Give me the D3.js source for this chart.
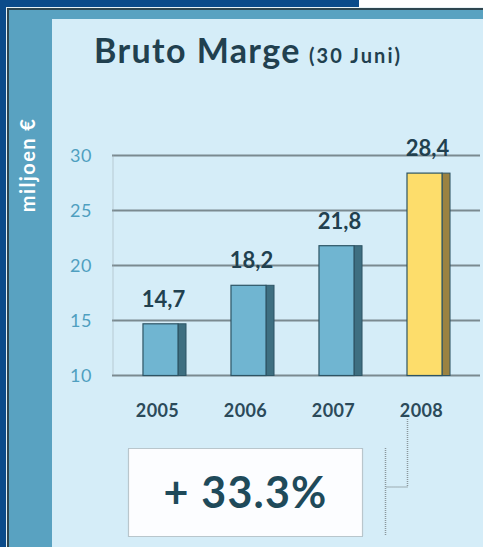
<!DOCTYPE html>
<html>
<head>
<meta charset="utf-8">
<script src="https://cdn.jsdelivr.net/npm/d3@7"></script>
<style>
html,body{margin:0;padding:0;background:#0b4b8a;}
svg{display:block;}
</style>
</head>
<body>
<svg id="c" width="483" height="547"></svg>
<script>
const years = ["2005","2006","2007","2008"];
const values = [14.7, 18.2, 21.8, 28.4];
const valueLabels = ["14,7","18,2","21,8","28,4"];
const yTicks = [10, 15, 20, 25, 30];
const highlightYear = "2008";
const title = "Bruto Marge";
const subtitle = "(30 Juni)";
const yLabel = "miljoen €";
const growthLabel = "+ 33.3%";

const svg = d3.select("#c");
const W = 483, H = 547;
const font = "Lato, 'Open Sans', sans-serif";

// background
svg.append("rect").attr("width", W).attr("height", H).attr("fill", "#0b4b8a");
svg.append("rect").attr("x", 359).attr("y", 0).attr("width", W - 359).attr("height", 9).attr("fill", "#ffffff");
// frame
svg.append("rect").attr("x", 6).attr("y", 7).attr("width", W - 6).attr("height", H - 7).attr("fill", "#e8f2f6");
svg.append("rect").attr("x", 7).attr("y", 8).attr("width", W - 7).attr("height", H - 8).attr("fill", "#2e4650");
svg.append("rect").attr("x", 9).attr("y", 10).attr("width", W - 9).attr("height", H - 10).attr("fill", "#59a2c1");
svg.append("rect").attr("x", 52).attr("y", 19).attr("width", W - 52).attr("height", H - 19).attr("fill", "#d5edf8");

// y label
svg.append("text")
  .attr("transform", "translate(35,165) rotate(-90)")
  .attr("text-anchor", "middle")
  .attr("font-family", font).attr("font-weight", "bold").attr("font-size", 20)
  .attr("letter-spacing", 1.4)
  .attr("fill", "#ffffff").text(yLabel);

// title
const t = svg.append("text").attr("x", 94).attr("y", 63)
  .attr("font-family", font).attr("font-weight", "bold").attr("fill", "#21404f");
t.append("tspan").attr("font-size", 34).attr("letter-spacing", 1.4).text(title);
t.append("tspan").attr("font-size", 20).attr("dx", 8).attr("letter-spacing", 2.1).text(subtitle);

// scales
const y = d3.scaleLinear().domain([10, 30]).range([375.5, 155.5]);
const x = d3.scaleBand().domain(years).range([112, 473]).paddingInner(0.602).paddingOuter(0.352);
const depth = 8;

// gridlines
svg.append("g").selectAll("line").data(yTicks).join("line")
  .attr("x1", 112).attr("x2", 480)
  .attr("y1", d => y(d)).attr("y2", d => y(d))
  .attr("stroke", "#7b8a90").attr("stroke-width", 2);

// y axis dotted
svg.append("line").attr("x1", 113).attr("x2", 113).attr("y1", y(30)).attr("y2", y(10))
  .attr("stroke", "#9aa8ae").attr("stroke-width", 1).attr("stroke-dasharray", "1,1");

// y tick labels
svg.append("g").selectAll("text").data(yTicks).join("text")
  .attr("x", 92).attr("y", d => y(d) + 6.5)
  .attr("text-anchor", "end")
  .attr("font-family", font).attr("font-size", 18).attr("letter-spacing", 0.5)
  .attr("fill", "#4f9fc0").text(d => d);

// bars
const bars = svg.append("g").selectAll("g").data(years.map((yr, i) => ({yr, v: values[i], lbl: valueLabels[i]}))).join("g");
bars.append("rect")
  .attr("x", d => x(d.yr) + x.bandwidth()).attr("y", d => y(d.v))
  .attr("width", depth).attr("height", d => y(10) - y(d.v))
  .attr("fill", d => d.yr === highlightYear ? "#9b8241" : "#3e6f81")
  .attr("stroke", "#2d5464").attr("stroke-width", 1);
bars.append("rect")
  .attr("x", d => x(d.yr)).attr("y", d => y(d.v))
  .attr("width", x.bandwidth()).attr("height", d => y(10) - y(d.v))
  .attr("fill", d => d.yr === highlightYear ? "#fddd6b" : "#70b5d1")
  .attr("stroke", "#2d5464").attr("stroke-width", 1.2);
bars.append("text")
  .attr("x", d => x(d.yr) + (x.bandwidth() + depth) / 2 - 1)
  .attr("y", d => y(d.v) - 17)
  .attr("text-anchor", "middle")
  .attr("font-family", font).attr("font-weight", "bold").attr("font-size", 22)
  .attr("fill", "#21404f").text(d => d.lbl);

// x labels
svg.append("g").selectAll("text").data(years).join("text")
  .attr("x", d => x(d) + x.bandwidth() / 2 - 3)
  .attr("y", 417)
  .attr("text-anchor", "middle")
  .attr("font-family", font).attr("font-weight", "bold").attr("font-size", 18)
  .attr("letter-spacing", 0.4)
  .attr("fill", "#2b4a5a").text(d => d);

// connector
const cx = x(highlightYear) + 0.5;
svg.append("path")
  .attr("d", `M${cx},419 V487 H386`)
  .attr("fill", "none").attr("stroke", "#8a979c").attr("stroke-width", 1.5).attr("stroke-dasharray", "1,1");
svg.append("line").attr("x1", 385.5).attr("x2", 385.5).attr("y1", 448).attr("y2", 536)
  .attr("stroke", "#8a979c").attr("stroke-width", 1.5).attr("stroke-dasharray", "1,1");

// growth box
svg.append("rect").attr("x", 128.5).attr("y", 448.5).attr("width", 234).attr("height", 88)
  .attr("fill", "#fcfdff").attr("stroke", "#8a979c").attr("stroke-width", 1.2).attr("stroke-dasharray", "1,1");
svg.append("text").attr("x", 245.5).attr("y", 508)
  .attr("text-anchor", "middle")
  .attr("font-family", font).attr("font-weight", "bold").attr("font-size", 43)
  .attr("letter-spacing", 1.2)
  .attr("fill", "#1f4a5a").text(growthLabel);
</script>
</body>
</html>
